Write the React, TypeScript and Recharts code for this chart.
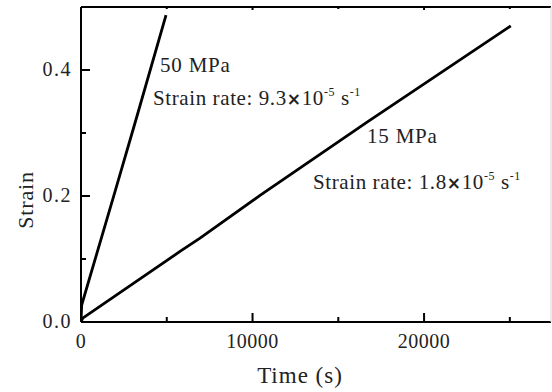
import React from 'react';
import { LineChart, Line, XAxis, YAxis } from 'recharts';

const time50 = [0, 40, 1983, 3245, 4956];
const strain50 = [0, 0.027, 0.207, 0.325, 0.487];
const time15 = [0, 100, 5773, 6939, 10437, 16657, 25055];
const strain15 = [0, 0.006, 0.112, 0.133, 0.201, 0.317, 0.47];
const xTicks = [0, 5000, 10000, 15000, 20000, 25000];
const xLabels = [0, 10000, 20000];
const yTicks = [0, 0.1, 0.2, 0.3, 0.4, 0.5];
const yLabels = [0, 0.2, 0.4];

const series50 = time50.map((t, i) => ({ t, s: strain50[i] }));
const series15 = time15.map((t, i) => ({ t, s: strain15[i] }));

const FONT = '"Liberation Serif", "Times New Roman", serif';

const isLabelX = (v: number) => xLabels.includes(v);
const isLabelY = (v: number) => yLabels.some((l) => Math.abs(l - v) < 1e-9);

const BottomTick = (props: any) => {
  const { x, y, payload } = props;
  const major = isLabelX(payload.value);
  const len = major ? 9 : 5;
  return (
    <g>
      <line x1={x} y1={y} x2={x} y2={y - len} stroke="#000" strokeWidth={2} />
      {major && (
        <text x={x} y={y + 26} textAnchor="middle" fontFamily={FONT} fontSize={20} letterSpacing={0.5} fill="#222">
          {String(payload.value)}
        </text>
      )}
    </g>
  );
};

const TopTick = (props: any) => {
  const { x, y, payload } = props;
  const major = isLabelX(payload.value);
  const len = major ? 3 : 2;
  return <line x1={x} y1={y} x2={x} y2={y + len} stroke="#000" strokeWidth={2} />;
};

const LeftTick = (props: any) => {
  const { x, y, payload } = props;
  const major = isLabelY(payload.value);
  const len = major ? 9 : 5;
  return (
    <g>
      <line x1={x} y1={y} x2={x + len} y2={y} stroke="#000" strokeWidth={2} />
      {major && (
        <text x={x - 9} y={y + 6} textAnchor="end" fontFamily={FONT} fontSize={20} letterSpacing={1.5} fill="#222">
          {Number(payload.value).toFixed(1)}
        </text>
      )}
    </g>
  );
};

const Empty = () => <g />;

const RateText = ({ x, y, rate }: { x: number; y: number; rate: string }) => (
  <text x={x} y={y} fontFamily={FONT} fontSize={21} letterSpacing={0.6} fill="#222">
    <tspan>{'Strain rate: ' + rate}</tspan>
    <tspan fontFamily='"DejaVu Sans", sans-serif' fontWeight="bold" fontSize={17}>×</tspan>
    <tspan>10</tspan>
    <tspan fontSize={12} dy={-9}>-5</tspan>
    <tspan fontSize={21} dy={9}>{' s'}</tspan>
    <tspan fontSize={12} dy={-9}>-1</tspan>
  </text>
);

export default function App() {
  return (
    <div style={{ position: 'absolute', left: 0, top: 0, width: 552, height: 392, background: '#fff' }}>
      <LineChart width={552} height={392} margin={{ top: 6, right: 0, bottom: 69, left: 80 }}>
        <XAxis
          xAxisId="b"
          type="number"
          dataKey="t"
          domain={[0, 27400]}
          ticks={xTicks}
          interval={0}
          height={1}
          tickSize={0}
          tickMargin={0}
          tickLine={false}
          axisLine={{ stroke: '#000', strokeWidth: 2 }}
          tick={<BottomTick />}
          allowDataOverflow
        />
        <XAxis
          xAxisId="t"
          orientation="top"
          type="number"
          dataKey="t"
          domain={[0, 27400]}
          ticks={xTicks}
          interval={0}
          height={1}
          tickSize={0}
          tickMargin={0}
          tickLine={false}
          axisLine={{ stroke: '#000', strokeWidth: 2 }}
          tick={<TopTick />}
          allowDataOverflow
        />
        <YAxis
          yAxisId="l"
          type="number"
          domain={[0, 0.5]}
          ticks={yTicks}
          interval={0}
          width={1}
          tickSize={0}
          tickMargin={0}
          tickLine={false}
          axisLine={{ stroke: '#000', strokeWidth: 2 }}
          tick={<LeftTick />}
          allowDataOverflow
        />
        <YAxis
          yAxisId="r"
          orientation="right"
          type="number"
          domain={[0, 0.5]}
          ticks={yTicks}
          width={1}
          tickSize={0}
          tickLine={false}
          axisLine={{ stroke: '#d8d8d8', strokeWidth: 1 }}
          tick={<Empty />}
          allowDataOverflow
        />
        <Line
          xAxisId="b"
          yAxisId="l"
          data={series50}
          dataKey="s"
          stroke="#000"
          strokeWidth={2.8}
          dot={false}
          isAnimationActive={false}
          type="linear"
        />
        <Line
          xAxisId="b"
          yAxisId="l"
          data={series15}
          dataKey="s"
          stroke="#000"
          strokeWidth={2.8}
          dot={false}
          isAnimationActive={false}
          type="linear"
        />
      </LineChart>
      <svg
        width={552}
        height={392}
        style={{ position: 'absolute', left: 0, top: 0, pointerEvents: 'none' }}
      >
        <text x={160} y={72} fontFamily={FONT} fontSize={21} letterSpacing={0.8} fill="#222">50 MPa</text>
        <RateText x={153} y={105} rate="9.3" />
        <text x={367} y={143} fontFamily={FONT} fontSize={21} letterSpacing={0.8} fill="#222">15 MPa</text>
        <RateText x={313} y={189} rate="1.8" />
        <text x={300} y={383} textAnchor="middle" fontFamily={FONT} fontSize={23} letterSpacing={1} fill="#222">Time (s)</text>
        <text
          x={0}
          y={0}
          transform="translate(33,200) rotate(-90)"
          textAnchor="middle"
          fontFamily={FONT}
          fontSize={22}
          letterSpacing={0.8}
          fill="#222"
        >
          Strain
        </text>
      </svg>
    </div>
  );
}
